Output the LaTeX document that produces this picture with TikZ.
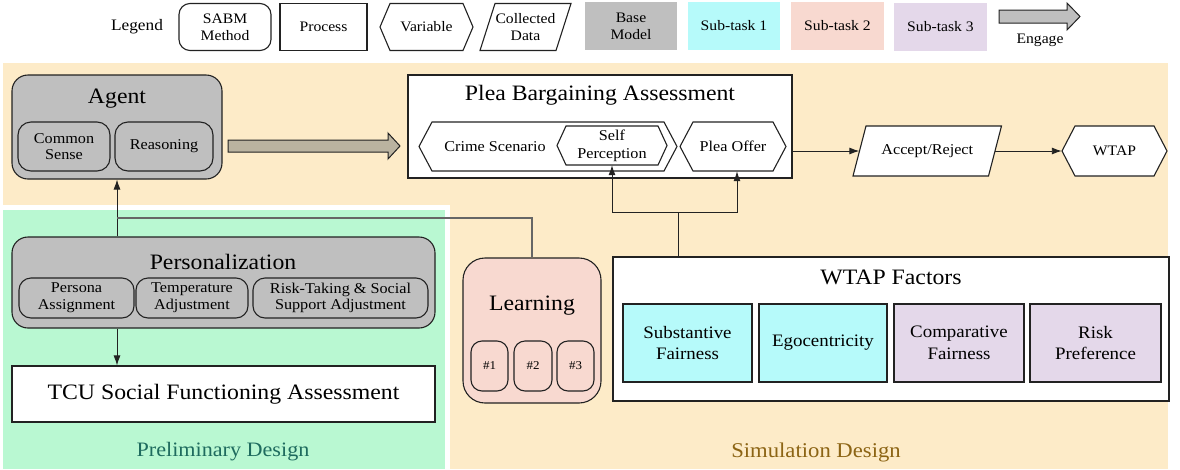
\documentclass[tikz,border=0pt]{standalone}
\usepackage{fontspec}
\setmainfont[FakeStretch=1.08]{Liberation Serif}
\usetikzlibrary{arrows.meta,calc}
\pgfdeclarelayer{bg}
\pgfsetlayers{bg,main}
\definecolor{beigeC}{HTML}{FDEBC8}
\definecolor{greenC}{HTML}{B9F8D2}
\definecolor{baseC}{HTML}{BFBFBF}
\definecolor{cyanC}{HTML}{B6FAFA}
\definecolor{pinkC}{HTML}{F8D9D0}
\definecolor{lavC}{HTML}{E4D8EA}
\definecolor{tanC}{HTML}{BAB3A0}
\definecolor{lineC}{HTML}{222222}
\definecolor{tealC}{HTML}{1E6B5E}
\definecolor{brownC}{HTML}{8C6414}
\newcommand\fsz[2]{\fontsize{#1}{#2}\selectfont}
% hexagon: [node style]{name}{cx}{cy}{w}{h}{inset}{text}
\newcommand\hexnd[8][]{%
 \filldraw[ln,fill=white] ({#3-#5/2},#4) -- ({#3-#5/2+#7},{#4-#6/2}) -- ({#3+#5/2-#7},{#4-#6/2}) -- ({#3+#5/2},#4) -- ({#3+#5/2-#7},{#4+#6/2}) -- ({#3-#5/2+#7},{#4+#6/2}) -- cycle;
 \node[minimum width=#5, minimum height=#6, #1] (#2) at (#3,#4) {#8};}
% parallelogram: [node style]{name}{cx}{cy}{w}{h}{slant}{text}
\newcommand\parand[8][]{%
 \filldraw[ln,fill=white] ({#3-#5/2+#7/2},{#4-#6/2}) -- ({#3+#5/2+#7/2},{#4-#6/2}) -- ({#3+#5/2-#7/2},{#4+#6/2}) -- ({#3-#5/2-#7/2},{#4+#6/2}) -- cycle;
 \node[minimum width=#5, minimum height=#6, #1] (#2) at (#3,#4) {#8};}
\tikzset{
 every node/.style={inner sep=0pt, align=center, text=black},
 ln/.style={draw=lineC, line width=1.1pt},
 sabm/.style={ln, fill=baseC, rounded corners=13pt},
 procbox/.style={ln, fill=white},
 solid box/.style={fill=#1, minimum width=92, minimum height=48},
 conn/.style={draw=lineC, line width=0.9pt},
 arr/.style={conn, -{Latex[length=10pt,width=7pt]}},
 lconn/.style={draw=black!60, line width=1.3pt},
 engage/.style={draw=lineC, line width=1pt, line join=miter},
 tTitle/.style={font=\fsz{22}{24}},
 tSub/.style={font=\fsz{15}{16.7}},
 tSP/.style={font=\fsz{15}{18}},
 tLeg/.style={font=\fsz{14.5}{16.7}},
 tFac/.style={font=\fsz{17.5}{21.5}},
}
\begin{document}
\begin{tikzpicture}[x=1pt,y=-1pt]
\useasboundingbox (0,0) rectangle (1180,469);
% background regions
\begin{pgfonlayer}{bg}
 \fill[beigeC] (3,63) rectangle (1168,469);
 \fill[greenC] (3,210) rectangle (445,469);
 \draw[white, line width=5pt] (3,207.5) -- (447.5,207.5) -- (447.5,469);
\end{pgfonlayer}

% ---------- Legend ----------
\node[font=\fsz{16}{18}] (legT) at (137,27) {Legend};
\node[ln, fill=white, rounded corners=11pt, minimum width=92, minimum height=47, tLeg] (lsabm) at (225,27) {SABM\\Method};
\node[procbox, minimum width=87, minimum height=47, tLeg] (lproc) at (323.5,27) {Process};
\hexnd[tLeg]{lvar}{426.5}{27}{93}{47}{10}{Variable}
\parand[tLeg]{ldata}{525.5}{27}{76}{47}{15}{Collected\\Data}
\node[solid box=baseC, tLeg] (lbase) at (631,26) {Base\\Model};
\node[solid box=cyanC, tLeg] (ls1) at (734,26) {Sub-task 1};
\node[solid box=pinkC, tLeg, minimum width=93] (ls2) at (837.5,26) {Sub-task 2};
\node[solid box=lavC, tLeg, minimum width=93] (ls3) at (940.5,27) {Sub-task 3};
\draw[engage, fill=baseC] (999,10) -- (1067,10) -- (1067,3) -- (1080,16.5) -- (1067,30) -- (1067,23) -- (999,23) -- cycle;
\node[tLeg] (lengT) at (1040,40) {Engage};

% ---------- Agent ----------
\node[sabm, rounded corners=16pt, minimum width=210, minimum height=104] (agent) at (117,127) {};
\node[tTitle] (agentT) at (117,99) {Agent};
\node[sabm, minimum width=92, minimum height=49, tSub] (cs) at (64,146.5) {Common\\Sense};
\node[sabm, minimum width=98, minimum height=49, tSub] (reas) at (164,146.5) {Reasoning};

% ---------- Plea Bargaining Assessment ----------
\node[procbox, line width=1.6pt, minimum width=384, minimum height=103] (pba) at (600,126.5) {};
\node[tTitle] (pbaT) at (600,95) {Plea Bargaining Assessment};
\hexnd{crime}{548}{146.5}{258}{49}{13}{}
\node[tSub] (crimeT) at (495,147) {Crime Scenario};
\hexnd[tSP]{sp}{612}{145.5}{110}{39}{9}{Self\\Perception}
\hexnd[tSub]{po}{733}{146.5}{106}{49}{13}{Plea Offer}

% main engage arrow
\draw[engage, fill=tanC] (228,140) -- (388,140) -- (388,133) -- (400,146) -- (388,159) -- (388,152) -- (228,152) -- cycle;

\parand[tSub]{ar}{927.25}{151}{135.5}{50}{13}{Accept/Reject}
\hexnd[font=\fsz{14.5}{16.7}]{wtap}{1114.5}{151}{105}{50}{13}{WTAP}
\draw[arr] (pba.east |- ar.west) -- (ar.west);
\draw[arr] (ar.east) -- (wtap.west);

% ---------- Personalization ----------
\node[sabm, rounded corners=16pt, minimum width=423, minimum height=91] (pers) at (223.5,282.5) {};
\node[tTitle] (persT) at (223,262) {Personalization};
\node[sabm, rounded corners=12pt, minimum width=115, minimum height=40, tSub] (pa) at (76.5,298) {Persona\\Assignment};
\node[sabm, rounded corners=12pt, minimum width=112, minimum height=40, tSub] (ta) at (192,298) {Temperature\\Adjustment};
\node[sabm, rounded corners=12pt, minimum width=175, minimum height=40, tSub] (rt) at (340.5,298) {Risk-Taking \& Social\\Support Adjustment};
\node[procbox, minimum width=423, minimum height=56, tTitle] (tcu) at (223.5,394) {TCU Social Functioning Assessment};
\node[font=\fsz{20.5}{22}, text=tealC] (prelT) at (223,452) {Preliminary Design};

% ---------- Learning ----------
\node[ln, fill=pinkC, rounded corners=22pt, minimum width=138, minimum height=145] (learn) at (532,330.5) {};
\node[tTitle] (learnT) at (532,306) {Learning};
\node[ln, fill=pinkC, rounded corners=11pt, minimum width=37, minimum height=50, font=\fsz{12}{14}] (l1) at (489.5,366) {\#1};
\node[ln, fill=pinkC, rounded corners=11pt, minimum width=38, minimum height=50, font=\fsz{12}{14}] (l2) at (533,366) {\#2};
\node[ln, fill=pinkC, rounded corners=11pt, minimum width=37, minimum height=50, font=\fsz{12}{14}] (l3) at (575.5,366) {\#3};

% ---------- WTAP Factors ----------
\node[procbox, line width=1.4pt, minimum width=556, minimum height=144] (wf) at (891,329) {};
\node[tTitle] (wfT) at (891,277) {WTAP Factors};
\node[ln, fill=cyanC, minimum width=129, minimum height=78, tFac] (sf) at (687.5,343) {Substantive\\Fairness};
\node[ln, fill=cyanC, minimum width=128, minimum height=78, tFac] (ego) at (823,343) {Egocentricity};
\node[ln, fill=lavC, minimum width=130, minimum height=78, tFac] (cf) at (959,343) {Comparative\\Fairness};
\node[ln, fill=lavC, minimum width=131, minimum height=78, tFac] (rp) at (1095.5,343) {Risk\\Preference};
\node[font=\fsz{21}{23}, text=brownC] (simT) at (816,452) {Simulation Design};

% ---------- connectors ----------
\draw[arr] (agent.south |- pers.north) -- (agent.south);
\coordinate (lj) at (117,218);
\draw[lconn] (learn.north) |- (lj);
\draw[arr] (agent.south |- pers.south) -- (agent.south |- tcu.north);
\coordinate (fork) at (678,212);
\draw[conn] (wf.north -| fork) -- (fork);
\draw[arr] (fork) -| (sp.south);
\draw[arr] (fork) -| ([xshift=4pt]po.south);
\end{tikzpicture}
\end{document}
